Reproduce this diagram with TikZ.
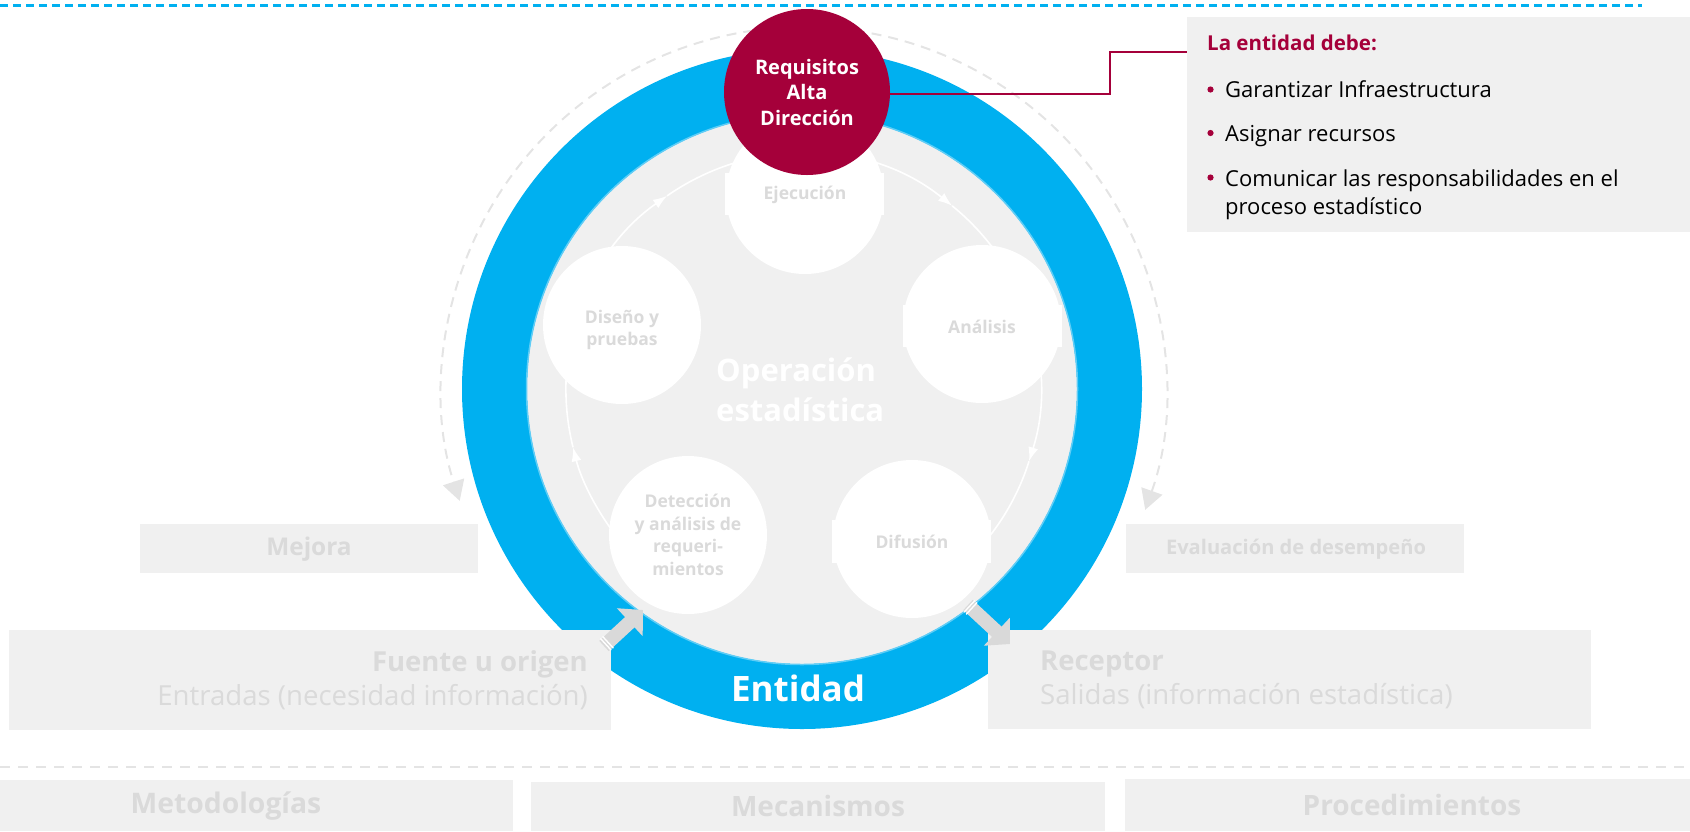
\documentclass[tikz,border=0pt]{standalone}
\usepackage{fontspec}
\setmainfont{Open Sans}
\usetikzlibrary{arrows.meta}
\definecolor{cblue}{HTML}{00B0F0}
\definecolor{crimson}{HTML}{A5003A}
\definecolor{boxgray}{HTML}{F0F0F0}
\definecolor{txtgray}{HTML}{DADADA}
\definecolor{dashgray}{HTML}{E4E4E4}
\definecolor{arrgray}{HTML}{D9D9D9}
\definecolor{ringedge}{HTML}{5FCDF6}
\newcommand{\fs}[2]{\fontsize{#1}{#2}\selectfont}
\tikzset{
  circ/.style={circle, fill=white, minimum size=158pt, inner sep=0pt},
  wrect/.style={rectangle, fill=white, inner sep=0pt},
  ctext/.style={font=\bfseries\fs{17.5}{22.5}, text=txtgray, align=center, inner sep=0pt},
  gbox/.style={rectangle, fill=boxgray, inner sep=0pt},
  gtext/.style={text=txtgray, inner sep=0pt},
  outerdash/.style={dashgray, line width=2pt, dash pattern=on 10pt off 7pt, -{Triangle[length=20pt,width=22pt]}},
  cyc/.style={white, line width=1.6pt},
  cyctip/.style={cyc, -{Latex[length=14pt,width=10pt]}},
  blockarrow/.style={arrgray, line width=14pt, -{Triangle[length=18pt,width=37pt]}},
  stripe/.style={white, line width=1.4pt},
  bullettext/.style={anchor=base west, inner sep=0pt, font=\fs{22}{29}},
}
\begin{document}
\begin{tikzpicture}[x=1pt,y=-1pt]
\useasboundingbox (0,0) rectangle (1690,831);

% top dashed line
\coordinate (tl) at (0,5.5);
\coordinate (tr) at (1642,5.5);
\draw[cblue, line width=2.6pt, dash pattern=on 8pt off 5pt] (tl) -- (tr);

% bottom dashed line
\coordinate (bl) at (0,767);
\coordinate (br) at (1690,767);
\draw[dashgray, line width=2.4pt, dash pattern=on 10pt off 8pt] (bl) -- (br);

% outer dashed arcs
\coordinate (D) at (804,389);
\draw[outerdash] (D) ++(-90:362) arc[start angle=-90, end angle=-198, radius=362];
\draw[outerdash] (D) ++(-90:362) arc[start angle=-90, end angle=19.5, radius=362];

% ring
\coordinate (C) at (802,389);
\fill[cblue] (C) circle[radius=340];
\fill[boxgray] (C) circle[radius=275];
\draw[ringedge, line width=1.5pt] (C) circle[radius=275.5];

% inner cycle arcs
\coordinate (A) at (803,390);
\draw[cyctip] (A) ++(-217:237) arc[start angle=-217, end angle=-194, radius=237];
\draw[cyctip] (A) ++(-194:237) arc[start angle=-194, end angle=-125, radius=237];
\draw[cyctip] (A) ++(-125:237) arc[start angle=-125, end angle=-51, radius=237];
\draw[cyctip] (A) ++(-51:237) arc[start angle=-51, end angle=17.5, radius=237];
\draw[cyc] (A) ++(17.5:237) arc[start angle=17.5, end angle=38, radius=237];

% process circles
\node[circ] (eje) at (805,195) {};
\node[wrect, minimum width=159pt, minimum height=42pt] (ejeR) at (804.5,194) {};
\node[ctext] (ejeT) at (805,195) {Ejecución};

\node[circ] (dis) at (622,325) {};
\node[ctext] (disT) at (622,330) {Diseño y\\pruebas};

\node[circ] (ana) at (982,324) {};
\node[wrect, minimum width=159pt, minimum height=42pt] (anaR) at (982.5,326) {};
\node[ctext] (anaT) at (982,327) {Análisis};

\node[circ] (det) at (688,535) {};
\node[ctext] (detT) at (688,535) {Detección\\y análisis de\\requeri-\\mientos};

\node[circ] (dif) at (912,539) {};
\node[wrect, minimum width=159pt, minimum height=43pt] (difR) at (911.5,541.5) {};
\node[ctext] (difT) at (912,542) {Difusión};

% center title
\node[font=\bfseries\fs{31}{40}, text=white, align=left, anchor=west, inner sep=0pt] (op) at (716,390) {Operación\\estadística};

% red circle
\node[circle, fill=crimson, minimum size=166pt, inner sep=0pt] (req) at (807,92) {};
\node[font=\bfseries\fs{20}{25.5}, text=white, align=center, inner sep=0pt] (reqT) at (807,92) {Requisitos\\Alta\\Dirección};

% info box
\node[gbox, minimum width=503pt, minimum height=215pt] (lbox) at (1438.5,124.5) {};
\coordinate (k2) at (1110,52);
\coordinate (k) at (lbox.west |- k2);
\draw[crimson, line width=2pt] ([yshift=-2pt]req.east) -| (k2) -- (k);
\node[anchor=base west, inner sep=0pt, font=\bfseries\fs{20.5}{24}, text=crimson] (h) at (1207,50.7) {La entidad debe:};
\fill[crimson] (1210.5,89.5) circle[radius=3.1];
\fill[crimson] (1210.5,133) circle[radius=3.1];
\fill[crimson] (1210.5,177.5) circle[radius=3.1];
\node[bullettext] (b1) at (1225,97.3) {Garantizar Infraestructura};
\node[bullettext] (b2) at (1225,141) {Asignar recursos};
\node[bullettext] (b3) at (1225,186) {Comunicar las responsabilidades en el};
\node[bullettext] (b4) at (1225,214.5) {proceso estadístico};

% side boxes
\node[gbox, minimum width=338pt, minimum height=49pt] (mej) at (309,548.5) {};
\node[gtext, font=\bfseries\fs{24.4}{28}] (mejT) at (309,549) {Mejora};
\node[gbox, minimum width=338pt, minimum height=49pt] (eva) at (1295,548.5) {};
\node[gtext, font=\bfseries\fs{20.1}{24}] (evaT) at (1296,549) {Evaluación de desempeño};

% input / output boxes
\node[gbox, minimum width=602pt, minimum height=100pt] (fue) at (310,680) {};
\node[gtext, anchor=east, align=right, font=\fs{27.6}{34}] (fueT) at (588,680) {{\bfseries\fs{27.5}{34}Fuente u origen}\\Entradas (necesidad información)};
\node[gbox, minimum width=603pt, minimum height=99pt] (rec) at (1289.5,679.5) {};
\node[gtext, anchor=west, align=left, font=\fs{27.6}{34}] (recT) at (1040,680) {{\bfseries\fs{27.5}{34}Receptor}\\Salidas (información estadística)};

% Entidad
\node[font=\bfseries\fs{35}{40}, text=white, inner sep=0pt] (ent) at (798,688) {Entidad};

% block arrows
\coordinate (la1) at (604,646);
\coordinate (la2) at (643,610);
\draw[blockarrow] (la1) -- (la2);
\draw[stripe] (600.4,638.4) -- (611.2,650.2);
\draw[stripe] (602.6,636.4) -- (613.4,648.2);
\coordinate (ra1) at (968,605);
\coordinate (ra2) at (1010,644);
\draw[blockarrow] (ra1) -- (ra2);
\draw[stripe] (964.0,612.2) -- (974.9,600.5);
\draw[stripe] (966.2,614.3) -- (977.1,602.5);

% bottom boxes
\node[gbox, minimum width=513pt, minimum height=51pt] (met) at (256.5,805.5) {};
\node[gtext, font=\bfseries\fs{28.3}{32}] (metT) at (226,806) {Metodologías};
\node[gbox, minimum width=574pt, minimum height=49pt] (mec) at (818,806.5) {};
\node[gtext, font=\bfseries\fs{28}{32}] (mecT) at (818,806) {Mecanismos};
\node[gbox, minimum width=565pt, minimum height=52pt] (pro) at (1407.5,805) {};
\node[gtext, font=\bfseries\fs{28}{32}] (proT) at (1412,805) {Procedimientos};
\end{tikzpicture}
\end{document}
